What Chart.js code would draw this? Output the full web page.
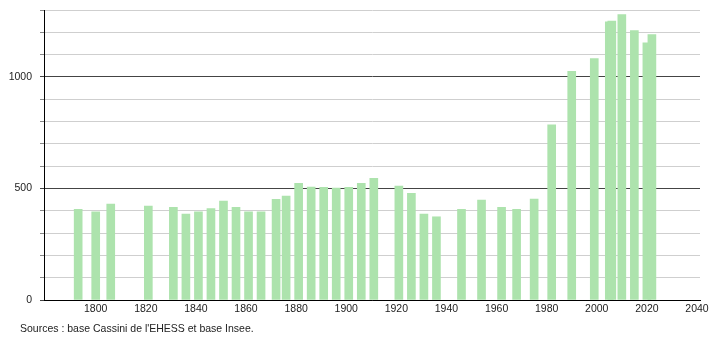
<!DOCTYPE html>
<html>
<head>
<meta charset="utf-8">
<script src="https://cdn.jsdelivr.net/npm/chart.js@4/dist/chart.umd.min.js"></script>
<style>
  html, body { margin: 0; padding: 0; background: #fff; }
  #wrap { position: relative; width: 710px; height: 340px; }
  #source { position: absolute; left: 20px; top: 322px; font: 10.5px "Liberation Sans", Arial, sans-serif; color: #222; white-space: nowrap; }
</style>
</head>
<body>
<div id="wrap">
  <canvas id="c" width="710" height="340"></canvas>
  <div id="source">Sources : base Cassini de l'EHESS et base Insee.</div>
</div>
<script>
const years = [1793,1800,1806,1821,1831,1836,1841,1846,1851,1856,1861,1866,1872,1876,1881,1886,1891,1896,1901,1906,1911,1921,1926,1931,1936,1946,1954,1962,1968,1975,1982,1990,1999,2005,2006,2010,2015,2020,2022];
const population = [407,395,430,421,415,385,395,410,443,415,395,395,451,466,523,506,505,502,505,523,545,511,478,385,373,406,448,415,406,452,785,1025,1082,1247,1250,1279,1208,1153,1190];
const yTickLabels = [0, 500, 1000];
const xTickLabels = [1800,1820,1840,1860,1880,1900,1920,1940,1960,1980,2000,2020,2040];

const font = { family: '"Liberation Sans", Arial, sans-serif', size: 10.5 };

new Chart(document.getElementById('c'), {
  type: 'bar',
  data: {
    datasets: [{
      data: years.map((y, i) => ({ x: y, y: population[i] })),
      backgroundColor: '#ade3ad',
      borderWidth: 0,
      barThickness: 8
    }]
  },
  options: {
    responsive: false,
    animation: false,
    layout: { padding: { top: 10, right: 10, left: 0, bottom: 0 }, autoPadding: false },
    plugins: { legend: { display: false }, tooltip: { enabled: false } },
    scales: {
      x: {
        type: 'linear',
        offset: false,
        min: 1779.36,
        max: 2041.2,
        afterFit: s => { s.height = 40; s.paddingLeft = 0; s.paddingRight = 0; },
        afterBuildTicks: s => { s.ticks = xTickLabels.map(v => ({ value: v })); },
        ticks: { font, color: '#222', padding: 3, maxRotation: 0, autoSkip: false, callback: v => String(v) },
        grid: { display: false, drawTicks: false, offset: false },
        border: { display: true, color: '#000', width: 1 }
      },
      y: {
        min: 0,
        max: 1300,
        afterFit: s => { s.width = 44; s.paddingTop = 0; s.paddingBottom = 0; },
        ticks: {
          stepSize: 100, font, color: '#222', padding: 8,
          callback: v => yTickLabels.includes(v) ? String(v) : ''
        },
        grid: {
          color: c => (c.tick.value % 500 === 0) ? '#444' : '#cfcfcf',
          tickColor: c => (c.tick.value % 500 === 0) ? '#444' : '#888',
          tickLength: 4,
          lineWidth: 1
        },
        border: { display: true, color: '#000', width: 1 }
      }
    }
  }
});
</script>
</body>
</html>
